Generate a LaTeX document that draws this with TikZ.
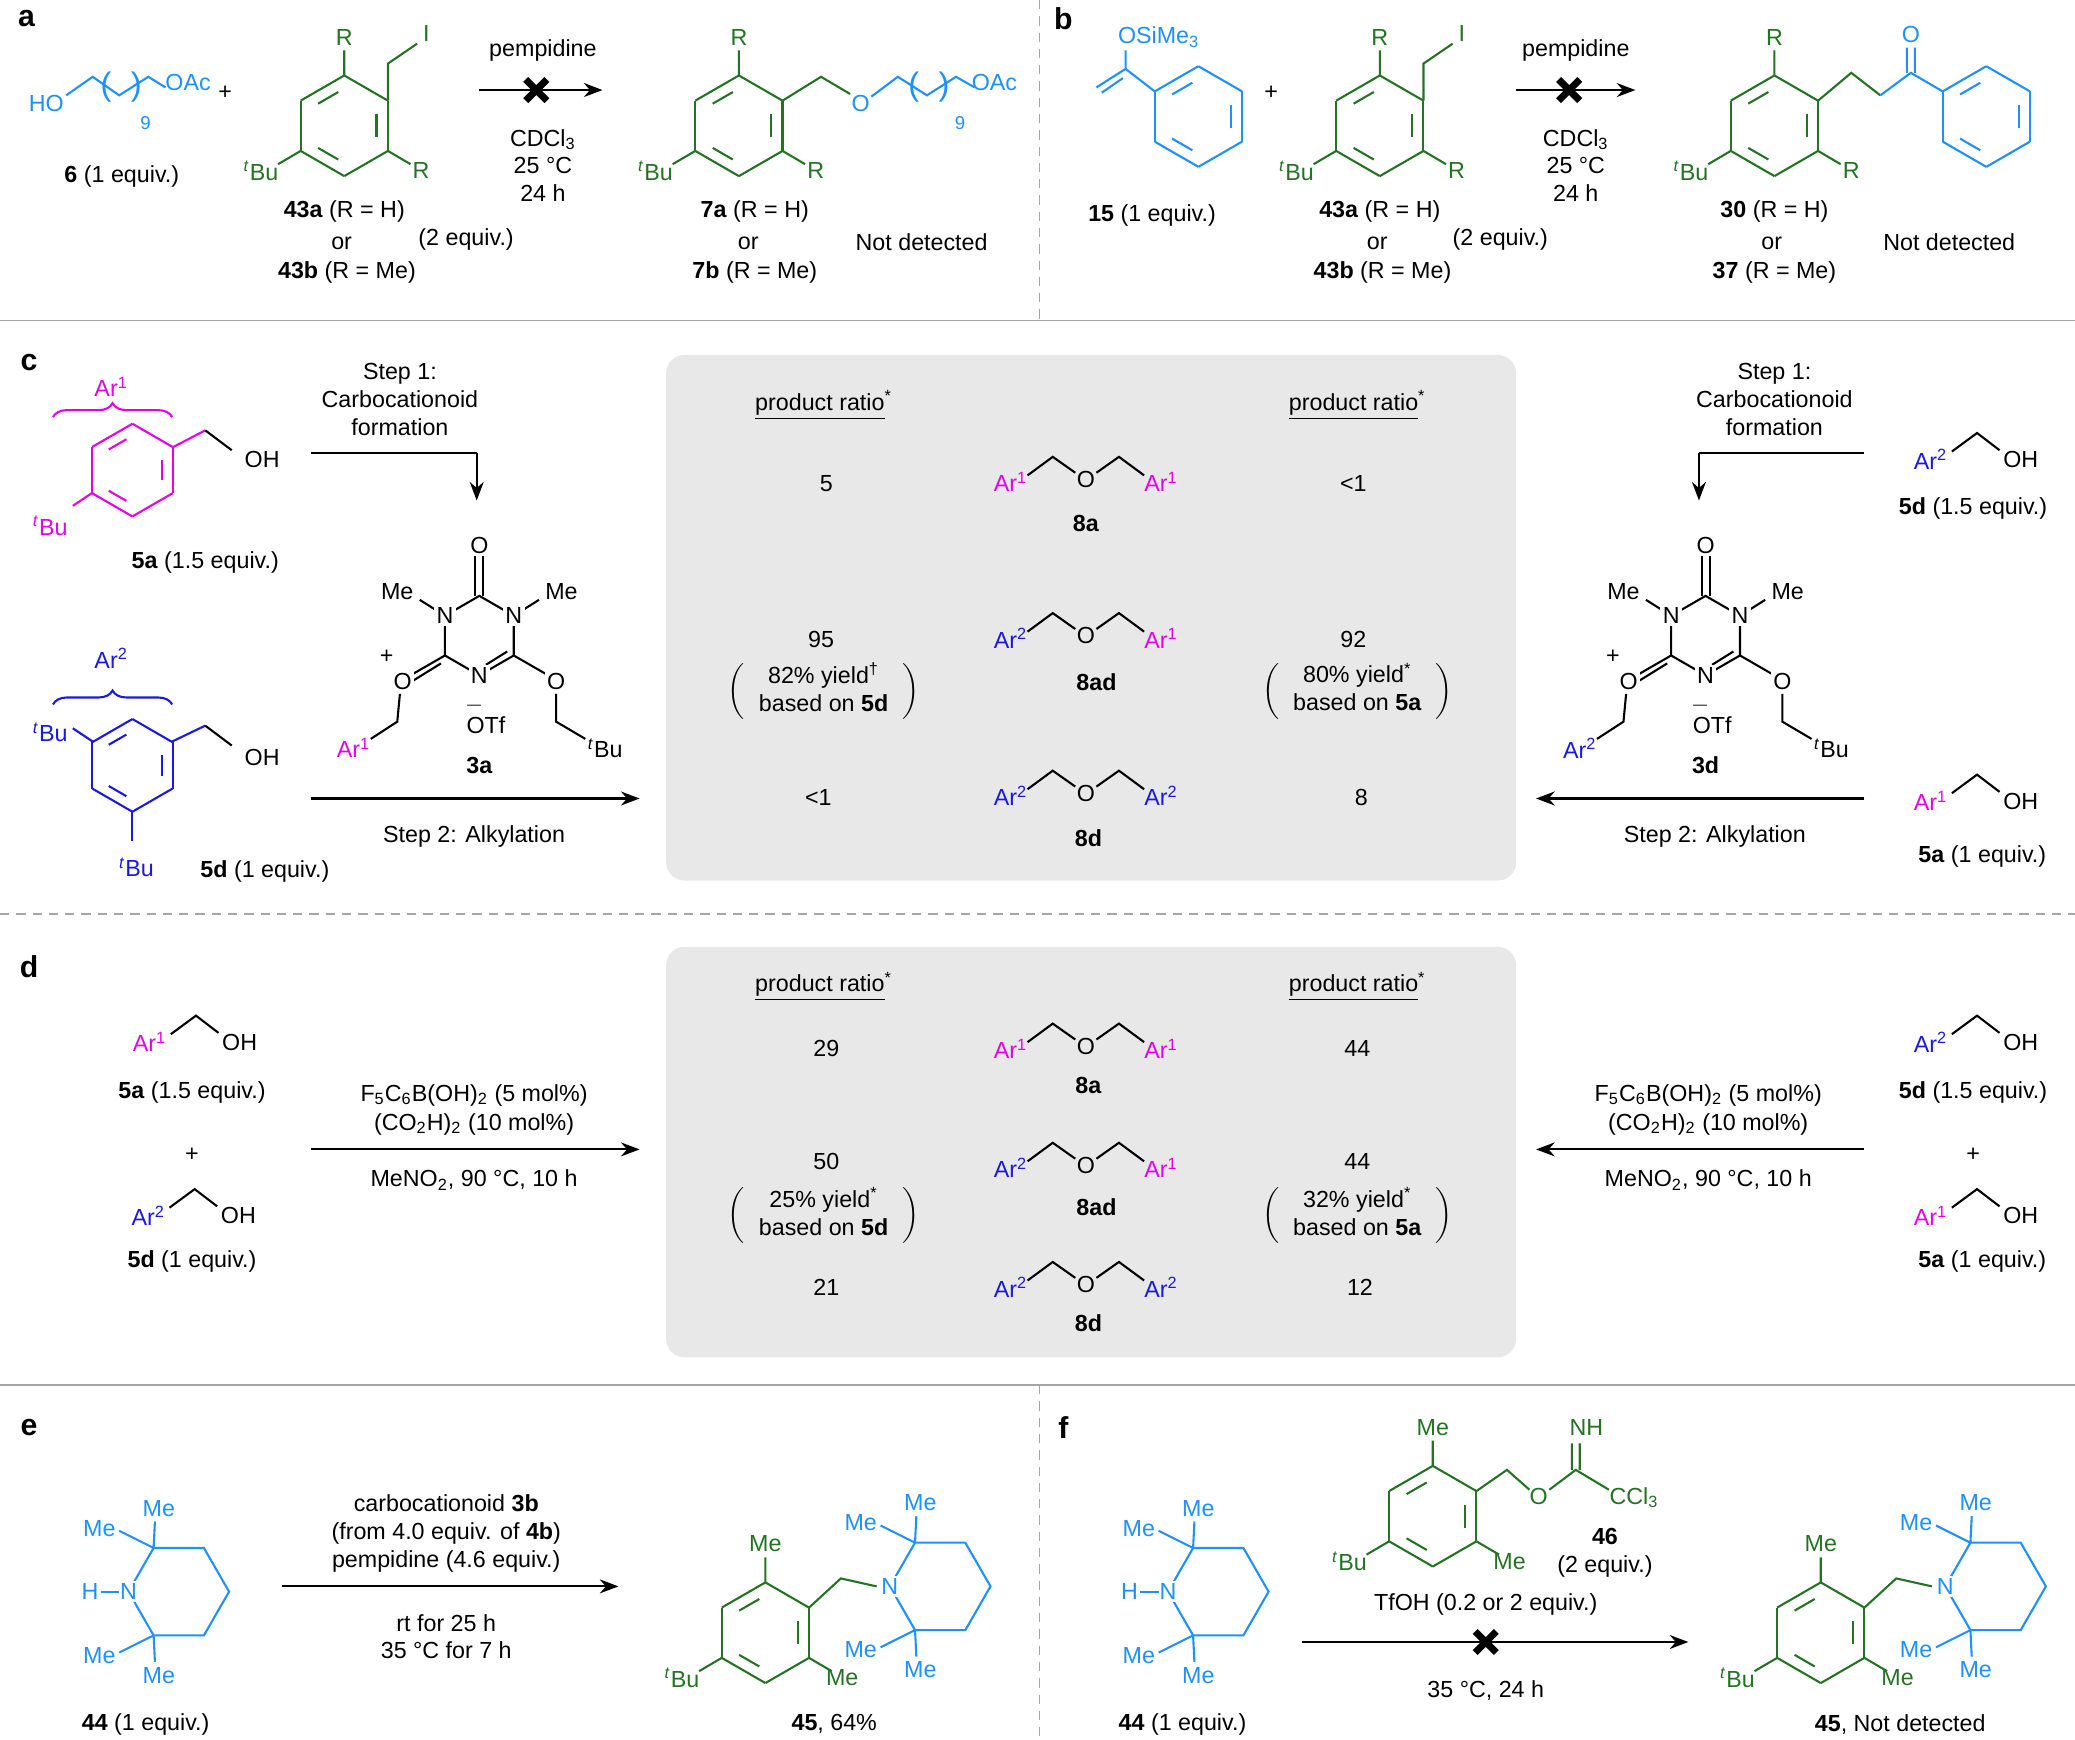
\documentclass[tikz,border=0pt]{standalone}
\usepackage{fontspec}
\setmainfont{Liberation Sans}
\usetikzlibrary{calc,arrows.meta,decorations.pathreplacing}
\definecolor{cb}{RGB}{30,144,255}
\definecolor{cdb}{RGB}{25,25,225}
\definecolor{cg}{RGB}{35,115,35}
\definecolor{cmag}{RGB}{230,0,230}
\definecolor{boxg}{RGB}{232,232,232}
\begin{document}
\begin{tikzpicture}[x=0.02cm,y=-0.02cm,font=\fontsize{10}{12}\selectfont,
 every node/.style={inner sep=1pt},
 bd/.style={line width=0.9pt},
 arr/.style={-{Stealth[length=8pt,width=6pt]},line width=0.9pt},
 lab/.style={align=center},
 sep/.style={line width=0.8pt,gray!70},
 dsep/.style={line width=0.8pt,gray!70,dash pattern=on 4pt off 3pt},
 brc/.style={line width=0.9pt,decorate,decoration={brace,amplitude=6pt}},
 let/.style={font=\fontsize{13}{14}\selectfont\bfseries}]
\useasboundingbox (0,0) rectangle (1567,1314);
\newcommand\benz[4]{\foreach \i in {0,...,5}{\draw[bd,#4] ($(#1,#2)+(90+60*\i:#3)$) -- ($(#1,#2)+(150+60*\i:#3)$);}
 \foreach \i in {0,2,4}{\draw[bd,#4,shorten <=3pt,shorten >=3pt] ($(#1,#2)+(90+60*\i:#3*0.74)$) -- ($(#1,#2)+(150+60*\i:#3*0.74)$);}}
\newcommand\tBu{\textsuperscript{\textit{t}}Bu}
\newcommand\tbuRing[3]{\benz{0}{0}{38}{#1}
 \draw[bd,#1] (0,-38)--(0,-57) (33,19)--(50,29) (-33,19)--(-50,29);
 \node[#1] at (0,-67){#2}; \node[#1] at (58,34){#3}; \node[#1] at (-63,34){\tBu};}
\newcommand\Ara{\textcolor{cmag}{Ar\textsuperscript{1}}}
\newcommand\Arb{\textcolor{cdb}{Ar\textsuperscript{2}}}
\newcommand\eth[4]{\node[anchor=east] at (#1-42,#2+2){#3};
 \draw[bd] (#1-44,#2-3)--(#1-25,#2-17)--(#1-8,#2-5) (#1+8,#2-5)--(#1+25,#2-17)--(#1+44,#2-3);
 \node at (#1,#2){O}; \node[anchor=west] at (#1+42,#2+2){#4};}
\newcommand\aroh[3]{\node at (#1,#2){#3}; \draw[bd] (#1+16,#2-6)--(#1+35,#2-20)--(#1+52,#2-7); \node at (#1+68,#2){OH};}
\newcommand\triaz[3]{
 \draw[bd] (0,-30)--(-26,-15)--(-26,15)--(0,30)--(26,15)--(26,-15)--cycle;
 \draw[bd] (-3,-30)--(-3,-60) (3,-30)--(3,-60);
 \draw[bd] (5,22)--(21,12);
 \draw[bd] (-26,15)--(-52,30) (-29,21)--(-50,34);
 \draw[bd] (26,15)--(52,30);
 \draw[bd] (-26,-15)--(-45,-27) (26,-15)--(45,-27);
 \node at (0,-68){O};
 \node[fill=white] at (-26,-15){N}; \node[fill=white] at (26,-15){N}; \node[fill=white] at (0,30){N};
 \node at (-62,-33){Me}; \node at (62,-33){Me};
 \node[fill=white] at (-58,35){O}; \node at (-70,16){+};
 \draw[bd] (-60,44)--(-62,65)--(-82,78); \node at (-95,85){#1};
 \node[fill=white] at (58,35){O};
 \draw[bd] (58,44)--(58,65)--(80,78); \node at (95,85){\tBu};
 \node at (-4,53){$-$}; \node at (5,68){OTf};
 \node[font=\fontsize{10}{12}\selectfont\bfseries] at (0,98){#3};}
\newcommand\pip[1]{
 \draw[bd,cb] (-38,0)--(-19,-33)--(19,-33)--(38,0)--(19,33)--(-19,33)--cycle;
 \draw[bd,cb] (-19,-33)--(-45,-46) (-19,-33)--(-18,-53) (-19,33)--(-45,46) (-19,33)--(-18,53);
 \node[fill=#1,text=cb] at (-38,0){N};
 \node[cb] at (-60,-48){Me}; \node[cb] at (-15,-63){Me}; \node[cb] at (-60,48){Me}; \node[cb] at (-15,63){Me};}
\newcommand\xmark[2]{\draw[line width=3pt] (#1-8,#2-8)--(#1+8,#2+8) (#1-8,#2+8)--(#1+8,#2-8);}

% separators and boxes
\draw[sep] (0,242)--(1567,242) (0,1046)--(1567,1046);
\draw[dsep] (0,690)--(1567,690) (785,0)--(785,242) (785,1046)--(785,1314);
\fill[boxg,rounded corners=8pt] (503,268) rectangle (1145,665);
\fill[boxg,rounded corners=8pt] (503,715) rectangle (1145,1025);
\node[let] at (20,14){a}; \node[let] at (803,14){b}; \node[let] at (22,274){c};
\node[let] at (22,730){d}; \node[let] at (22,1078){e}; \node[let] at (803,1078){f};

% ---- panel a
\node[cb] at (35,78){HO};
\draw[bd,cb] (50,72)--(70,58)--(90,72)--(112,58)--(125,66);
\node[cb,font=\fontsize{14}{14}\selectfont] at (80,66){(}; \node[cb,font=\fontsize{14}{14}\selectfont] at (103,66){)};
\node[cb,font=\fontsize{8}{9}\selectfont] at (110,93){9};
\node[cb] at (142,62){OAc};
\node at (92,133){\textbf{6} (1 equiv.)};
\node at (170,70){+};
\begin{scope}[shift={(260,95)}]
 \tbuRing{cg}{R}{R}
 \draw[bd,cg] (33,-19)--(33,-47)--(55,-62); \node[cg] at (62,-70){I};
\end{scope}
\node at (260,160){\textbf{43a} (R = H)}; \node at (258,184){or}; \node at (262,206){\textbf{43b} (R = Me)};
\node at (352,181){(2 equiv.)};
\draw[arr] (362,68)--(455,68); \xmark{405}{68}
\node at (410,38){pempidine}; \node[lab] at (410,125){CDCl\textsubscript{3}\\25 °C\\24 h};
\begin{scope}[shift={(558,95)}]
 \tbuRing{cg}{R}{R}
 \draw[bd,cg] (33,-19)--(62,-37)--(84,-24);
 \node[cb] at (92,-17){O};
 \draw[bd,cb] (100,-22)--(120,-37)--(142,-23)--(164,-37)--(178,-29);
 \node[cb,font=\fontsize{14}{14}\selectfont] at (132,-29){(}; \node[cb,font=\fontsize{14}{14}\selectfont] at (155,-29){)};
 \node[cb,font=\fontsize{8}{9}\selectfont] at (167,-2){9};
 \node[cb] at (193,-33){OAc};
\end{scope}
\node at (570,160){\textbf{7a} (R = H)}; \node at (565,184){or}; \node at (570,206){\textbf{7b} (R = Me)};
\node at (696,183){Not detected};

% ---- panel b
\benz{905}{88}{38}{cb}
\draw[bd,cb] (872,69)--(850,52)--(850,38) (850,52)--(828,66) (848,59)--(832,70);
\node[cb] at (875,28){OSiMe\textsubscript{3}};
\node at (870,163){\textbf{15} (1 equiv.)};
\node at (960,70){+};
\begin{scope}[shift={(1042,95)}]
 \tbuRing{cg}{R}{R}
 \draw[bd,cg] (33,-19)--(33,-47)--(55,-62); \node[cg] at (62,-70){I};
\end{scope}
\node at (1042,160){\textbf{43a} (R = H)}; \node at (1040,184){or}; \node at (1044,206){\textbf{43b} (R = Me)};
\node at (1133,181){(2 equiv.)};
\draw[arr] (1145,68)--(1235,68); \xmark{1185}{68}
\node at (1190,38){pempidine}; \node[lab] at (1190,125){CDCl\textsubscript{3}\\25 °C\\24 h};
\begin{scope}[shift={(1340,95)}]
 \tbuRing{cg}{R}{R}
\end{scope}
\draw[bd,cg] (1373,76)--(1398,55)--(1420,72);
\draw[bd,cb] (1420,72)--(1443,55)--(1467,69) (1440,55)--(1440,36) (1446,55)--(1446,36);
\node[cb] at (1443,26){O};
\benz{1500}{88}{38}{cb}
\node at (1340,160){\textbf{30} (R = H)}; \node at (1338,184){or}; \node at (1340,206){\textbf{37} (R = Me)};
\node at (1472,183){Not detected};

% ---- panel c left
\benz{100}{355}{35}{cmag}
\draw[bd,cmag] (130,338)--(155,325); \draw[bd] (155,325)--(175,340); \node at (198,347){OH};
\draw[bd,cmag] (70,372)--(55,382); \node[cmag] at (38,397){\tBu};
\draw[brc,cmag] (40,315)--(130,315);
\node[cmag] at (84,292){Ar\textsuperscript{1}};
\node at (155,425){\textbf{5a} (1.5 equiv.)};
\benz{100}{578}{35}{cdb}
\draw[bd,cdb] (130,560)--(155,548); \draw[bd] (155,548)--(175,563); \node at (198,572){OH};
\draw[bd,cdb] (70,560)--(55,550); \node[cdb] at (38,553){\tBu};
\draw[bd,cdb] (100,613)--(100,635); \node[cdb] at (103,655){\tBu};
\draw[brc,cdb] (40,532)--(130,532);
\node[cdb] at (84,497){Ar\textsuperscript{2}};
\node at (200,658){\textbf{5d} (1 equiv.)};
\node[lab] at (302,302){Step 1:\\Carbocationoid\\formation};
\draw[bd] (235,342)--(360,342); \draw[arr] (360,342)--(360,378);
\draw[arr] (235,603)--(483,603); \node at (358,632){Step 2: Alkylation};
\begin{scope}[shift={(362,480)}] \triaz{\Ara}{cmag}{3a} \end{scope}
% box c
\node at (622,306){\underline{product ratio}\textsuperscript{*}};
\node at (1025,306){\underline{product ratio}\textsuperscript{*}};
\node at (624,365){5}; \node at (1022,365){<1};
\eth{820}{362}{\Ara}{\Ara} \node at (820,395){\textbf{8a}};
\node at (620,483){95}; \node at (1022,483){92};
\eth{820}{480}{\Arb}{\Ara} \node at (828,515){\textbf{8ad}};
\node at (622,522){$\left(\vcenter{\hbox{\begin{tabular}{c}82\% yield\textsuperscript{\textdagger}\\based on \textbf{5d}\end{tabular}}}\right)$};
\node at (1025,522){$\left(\vcenter{\hbox{\begin{tabular}{c}80\% yield\textsuperscript{*}\\based on \textbf{5a}\end{tabular}}}\right)$};
\node at (618,602){<1}; \node at (1028,602){8};
\eth{820}{599}{\Arb}{\Arb} \node at (822,633){\textbf{8d}};
% panel c right
\node[lab] at (1340,302){Step 1:\\Carbocationoid\\formation};
\draw[bd] (1408,342)--(1283,342); \draw[arr] (1283,342)--(1283,378);
\aroh{1458}{347}{\Arb} \node at (1490,384){\textbf{5d} (1.5 equiv.)};
\begin{scope}[shift={(1288,480)}] \triaz{\Arb}{cdb}{3d} \end{scope}
\draw[arr] (1408,603)--(1160,603); \node at (1295,632){Step 2: Alkylation};
\aroh{1458}{605}{\Ara} \node at (1497,647){\textbf{5a} (1 equiv.)};

% ---- panel d
\aroh{113}{787}{\Ara} \node at (145,825){\textbf{5a} (1.5 equiv.)};
\node at (145,872){+};
\aroh{112}{918}{\Arb} \node at (145,953){\textbf{5d} (1 equiv.)};
\node at (358,827){F\textsubscript{5}C\textsubscript{6}B(OH)\textsubscript{2} (5 mol\%)};
\node at (358,849){(CO\textsubscript{2}H)\textsubscript{2} (10 mol\%)};
\draw[arr] (235,868)--(483,868);
\node at (358,891){MeNO\textsubscript{2}, 90 °C, 10 h};
\node at (1290,827){F\textsubscript{5}C\textsubscript{6}B(OH)\textsubscript{2} (5 mol\%)};
\node at (1290,849){(CO\textsubscript{2}H)\textsubscript{2} (10 mol\%)};
\draw[arr] (1408,868)--(1160,868);
\node at (1290,891){MeNO\textsubscript{2}, 90 °C, 10 h};
\aroh{1458}{787}{\Arb} \node at (1490,825){\textbf{5d} (1.5 equiv.)};
\node at (1490,872){+};
\aroh{1458}{918}{\Ara} \node at (1497,953){\textbf{5a} (1 equiv.)};
\node at (622,745){\underline{product ratio}\textsuperscript{*}};
\node at (1025,745){\underline{product ratio}\textsuperscript{*}};
\node at (624,792){29}; \node at (1025,792){44};
\eth{820}{790}{\Ara}{\Ara} \node at (822,820){\textbf{8a}};
\node at (624,877){50}; \node at (1025,877){44};
\eth{820}{880}{\Arb}{\Ara} \node at (828,912){\textbf{8ad}};
\node at (622,918){$\left(\vcenter{\hbox{\begin{tabular}{c}25\% yield\textsuperscript{*}\\based on \textbf{5d}\end{tabular}}}\right)$};
\node at (1025,918){$\left(\vcenter{\hbox{\begin{tabular}{c}32\% yield\textsuperscript{*}\\based on \textbf{5a}\end{tabular}}}\right)$};
\node at (624,972){21}; \node at (1027,972){12};
\eth{820}{970}{\Arb}{\Arb} \node at (822,999){\textbf{8d}};

% ---- panel e
\begin{scope}[shift={(135,1202)}] \pip{white} \end{scope}
\draw[bd,cb] (76,1202)--(90,1202); \node[cb] at (68,1202){H};
\node at (110,1302){\textbf{44} (1 equiv.)};
\node[lab] at (337,1158){carbocationoid \textbf{3b}\\(from 4.0 equiv. of \textbf{4b})\\pempidine (4.6 equiv.)};
\draw[arr] (213,1198)--(467,1198);
\node[lab] at (337,1236){rt for 25 h\\35 °C for 7 h};
\begin{scope}[shift={(578,1233)}] \tbuRing{cg}{Me}{Me} \end{scope}
\draw[bd,cg] (611,1214)--(635,1192)--(662,1198);
\begin{scope}[shift={(710,1198)}] \pip{white} \end{scope}
\node at (630,1302){\textbf{45}, 64\%};

% ---- panel f
\begin{scope}[shift={(920,1202)}] \pip{white} \end{scope}
\draw[bd,cb] (861,1202)--(875,1202); \node[cb] at (853,1202){H};
\node at (893,1302){\textbf{44} (1 equiv.)};
\begin{scope}[shift={(1082,1145)}] \tbuRing{cg}{Me}{Me} \end{scope}
\draw[bd,cg] (1115,1126)--(1138,1110)--(1155,1125);
\node[cg] at (1162,1130){O};
\draw[bd,cg] (1170,1125)--(1190,1110)--(1215,1125) (1187,1110)--(1187,1090) (1193,1110)--(1193,1090);
\node[cg] at (1198,1078){NH}; \node[cg] at (1234,1131){CCl\textsubscript{3}};
\node at (1212,1160){\textbf{46}}; \node at (1212,1183){(2 equiv.)};
\node at (1122,1212){TfOH (0.2 or 2 equiv.)};
\draw[arr] (983,1240)--(1275,1240); \xmark{1122}{1240}
\node at (1122,1277){35 °C, 24 h};
\begin{scope}[shift={(1375,1233)}] \tbuRing{cg}{Me}{Me} \end{scope}
\draw[bd,cg] (1408,1214)--(1432,1192)--(1459,1198);
\begin{scope}[shift={(1507,1198)}] \pip{white} \end{scope}
\node at (1435,1302){\textbf{45}, Not detected};
\end{tikzpicture}
\end{document}
